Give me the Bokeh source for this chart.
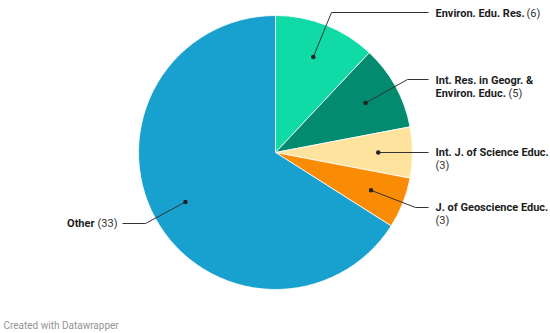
import math
from bokeh.plotting import figure
from bokeh.models import Range1d
from bokeh.core.properties import value
from bokeh.embed import file_html
from bokeh.resources import INLINE

# ---- data ----
categories = ["Environ. Edu. Res.", "Int. Res. in Geogr. & Environ. Educ.",
              "Int. J. of Science Educ.", "J. of Geoscience Educ.", "Other"]
counts = [6, 5, 3, 3, 33]
colors = ["#10daa5", "#038b70", "#fee39f", "#fa8b05", "#18a0ce"]

# ---- layout (page pixel coords, y downward) ----
W, H = 550, 333
def Y(y):
    return H - y

CX, CY, R = 275, 152, 137
DOT_R = 0.75 * R
FONT = value("Roboto")
FS = "11px"

# label layout: bold lines (x, y, text, align), count position (x, y, align), elbow points
label_layout = [
    dict(lines=[(435, 13, "Environ. Edu. Res.", "left")], count=(526, 13, "left"),
         leader=[(331, 12), (428, 12)]),
    dict(lines=[(435, 80, "Int. Res. in Geogr. &", "left"), (435, 93, "Environ. Educ.", "left")],
         count=(508, 93, "left"), leader=[(407, 79), (428, 79)]),
    dict(lines=[(435, 152, "Int. J. of Science Educ.", "left")], count=(435, 165, "left"),
         leader=[(428, 152)]),
    dict(lines=[(435, 207, "J. of Geoscience Educ.", "left")], count=(435, 220, "left"),
         leader=[(415, 207), (428, 207)]),
    dict(lines=[(94, 223, "Other", "right")], count=(117, 223, "right"),
         leader=[(145, 223), (122, 223)]),
]

p = figure(width=W, height=H, output_backend="svg", toolbar_location=None,
           x_range=Range1d(0, W), y_range=Range1d(0, H), min_border=0)
p.axis.visible = False
p.grid.visible = False
p.outline_line_color = None
p.background_fill_color = "white"
p.border_fill_color = "white"

total = sum(counts)
starts, ends, mids = [], [], []
cum = 0
for c in counts:
    a0 = math.pi / 2 - cum / total * 2 * math.pi
    cum += c
    a1 = math.pi / 2 - cum / total * 2 * math.pi
    starts.append(a0)
    ends.append(a1)
    mids.append((a0 + a1) / 2)

p.wedge(x=[CX] * len(counts), y=[Y(CY)] * len(counts), radius=R,
        start_angle=starts, end_angle=ends, direction="clock",
        fill_color=colors, line_color="white", line_width=0.8)

for i, lay in enumerate(label_layout):
    dx = CX + DOT_R * math.cos(mids[i])
    dy = Y(CY) + DOT_R * math.sin(mids[i])
    xs = [dx] + [pt[0] for pt in lay["leader"]]
    ys = [dy] + [Y(pt[1]) for pt in lay["leader"]]
    p.line(xs, ys, line_color="#333333", line_width=1)
    p.scatter([dx], [dy], size=4.5, fill_color="#222222", line_color=None)
    for (lx, ly, t, al) in lay["lines"]:
        p.text([lx], [Y(ly)], text=[t], text_font=FONT, text_font_size=FS,
               text_font_style="bold", text_color="#1d1d1d",
               text_baseline="middle", text_align=al)
    cx_, cy_, cal = lay["count"]
    p.text([cx_], [Y(cy_)], text=["(%d)" % counts[i]], text_font=FONT, text_font_size=FS,
           text_color="#333333", text_baseline="middle", text_align=cal)

p.text([3], [Y(325)], text=["Created with Datawrapper"], text_font=FONT,
       text_font_size="10px", text_color="#949494", text_baseline="middle")

open("out.html", "w").write(file_html(p, INLINE))
